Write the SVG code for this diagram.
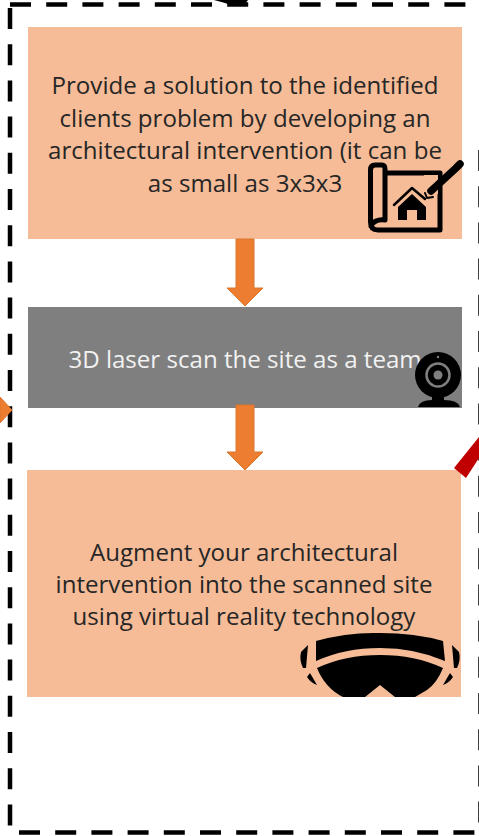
<svg xmlns="http://www.w3.org/2000/svg" width="479" height="836" viewBox="0 0 479 836">
<style>
.box{fill:#f5bc97}
.t{font-family:"Open Sans","Liberation Sans",sans-serif;font-size:24.1px;text-anchor:middle;fill:#262626}
.w{fill:#f2f2f2}
.d{fill:none;stroke:#000;stroke-width:4.5;stroke-dasharray:21 15.2}
.a{fill:#ed7d31;stroke:#d9772f;stroke-width:1}
.k{fill:#000}
.s{fill:none;stroke:#000;stroke-linejoin:round;stroke-linecap:round}
</style>
<rect width="479" height="836" fill="#fff"/>
<g id="frame">
<path class="d" d="M10 4.500H479"/>
<path class="d" d="M10 8V830"/>
<path class="d" d="M19 832.500H479"/>
<path class="d" d="M480.500 150V836"/>
<path class="k" d="M214 0H248L245 4L232 5.500L225 3Z"/>
</g>
<g id="node-solution">
<rect class="box" x="28" y="27" width="434" height="212"/>
<text class="t" x="245" y="94">Provide a solution to the identified</text>
<text class="t" x="245" y="127">clients problem by developing an</text>
<text class="t" x="245" y="159">architectural intervention (it can be</text>
<text class="t" x="245" y="192">as small as 3x3x3</text>
<g id="icon-plan">
<path class="s" stroke-width="5" d="M385 173H440V230H378Q370.500 230 370.500 222V170Q370.500 165 375 165H382Q385 165 385 169V220Q380 219 376 221Q372 223 371 226"/>
<path fill="#f5bc97" d="M424 175H438V194H424Z"/>
<path class="s" stroke-width="7.500" stroke-linecap="butt" d="M431 191L455 169"/>
<path class="s" stroke-width="7.500" stroke-linecap="butt" d="M457 167L460 164"/>
<path class="s" stroke-width="2" d="M425 193L427 198L433 197"/>
<path class="s" stroke-width="2.500" d="M394 205L412 188L425 199"/>
<path class="k" d="M412 194L398 207V220H407V210H417V220H426V207Z"/>
</g>
</g>
<g id="node-scan">
<rect x="28" y="307" width="434" height="101" fill="#7f7f7f"/>
<text class="t w" x="245" y="368">3D laser scan the site as a team</text>
<g id="icon-webcam">
<circle class="k" cx="438" cy="375" r="23"/>
<circle cx="438" cy="375" r="11.500" fill="none" stroke="#7f7f7f" stroke-width="2.500"/>
<circle cx="438" cy="375" r="4.500" fill="#7f7f7f"/>
<circle cx="438" cy="357" r="1.200" fill="#7f7f7f"/>
<path class="k" d="M432 396H444V400Q458 400 460 407H418Q420 400 432 400Z"/>
</g>
</g>
<g id="node-vr">
<rect class="box" x="27" y="470" width="434" height="227"/>
<text class="t" x="244" y="561">Augment your architectural</text>
<text class="t" x="244" y="593">intervention into the scanned site</text>
<text class="t" x="244" y="625">using virtual reality technology</text>
<g id="icon-goggles">
<path class="k" d="M316 641Q348 632 380 633Q415 633 443 641L445 661Q415 648 380 648Q345 648 316 661Z"/>
<path class="k" d="M317 668Q345 655 380 655Q415 655 443 668Q437 683 427 690L415 697H395L380 685L365 697H343Q325 688 317 668Z"/>
<path class="k" d="M308 645L306 668L303 668Q299 660 301 652Z"/>
<path class="k" d="M452 645L454 668L457 668Q461 660 459 652Z"/>
<path class="k" d="M307 677L310 673L317 685Q311 683 307 677Z"/>
<path class="k" d="M453 677L450 673L443 685Q449 683 453 677Z"/>
</g>
</g>
<g id="connectors">
<path class="a" d="M236 239H254V288H263L245 306L227 288H236Z"/>
<path class="a" d="M236 405H254V452H263L245 470L227 452H236Z"/>
<path class="a" d="M0 397L12 410L0 423Z"/>
<path fill="#c00000" d="M454 468L466 478L479 458V437Z"/>
</g>
</svg>
